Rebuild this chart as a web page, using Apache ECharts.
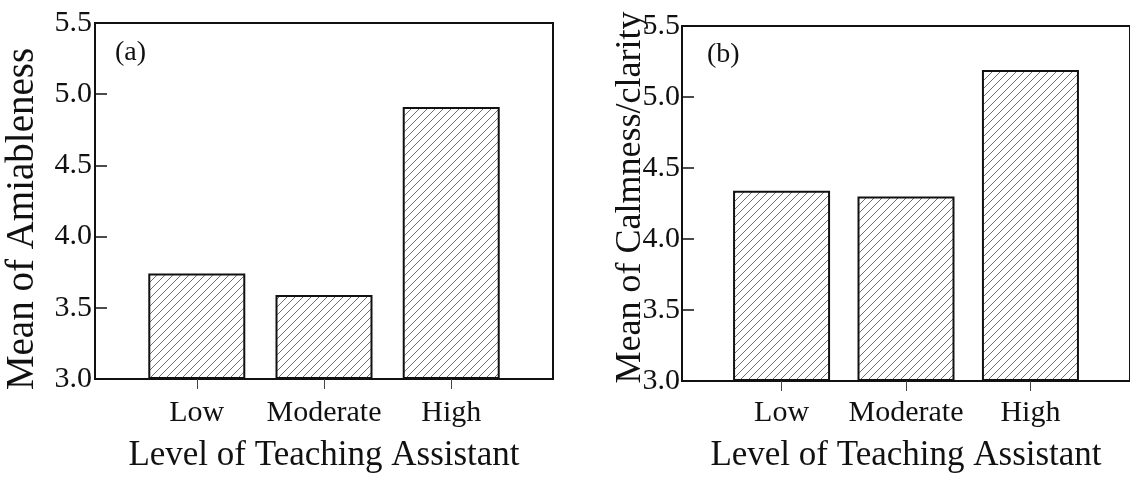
<!DOCTYPE html>
<html>
<head>
<meta charset="utf-8">
<title>Teaching assistant level</title>
<script src="https://cdn.jsdelivr.net/npm/echarts@6/dist/echarts.min.js"></script>
<style>
  html, body { margin: 0; padding: 0; background: #fff; }
  #chart { width: 1130px; height: 478px; }
</style>
</head>
<body>
<div id="chart"></div>
<script>
// Category labels and panel data
const categories = ['Low', 'Moderate', 'High'];
const amiableness = [3.74, 3.59, 4.91];
const calmness = [4.34, 4.30, 5.19];
const yTicks = [3.0, 3.5, 4.0, 4.5, 5.0, 5.5];
const panelTags = ['(a)', '(b)'];
const yTitles = ['Mean of Amiableness', 'Mean of Calmness/clarity'];
const xTitle = 'Level of Teaching Assistant';

const FONT = "'Liberation Serif', 'Times New Roman', 'DejaVu Serif', serif";
const INK = '#111';

// Diagonal hatch tile used to fill the bars
function hatchTile() {
  const s = 8;
  const c = document.createElement('canvas');
  c.width = s; c.height = s;
  const g = c.getContext('2d');
  g.fillStyle = '#fff';
  g.fillRect(0, 0, s, s);
  g.strokeStyle = '#555';
  g.lineWidth = 0.85;
  g.beginPath();
  g.moveTo(-1, s + 1); g.lineTo(s + 1, -1);
  g.moveTo(-1, 1); g.lineTo(1, -1);
  g.moveTo(s - 1, s + 1); g.lineTo(s + 1, s - 1);
  g.stroke();
  return c;
}
const hatch = { image: hatchTile(), repeat: 'repeat' };

const grids = [
  { left: 95, top: 23, width: 458, height: 360 },
  { left: 682, top: 26, width: 457, height: 359 }
];
const labelMargins = [19, 17];
const yLabelMargins = [3, 2];
const xNameGaps = [59, 57];
const yNameGaps = [53, 33];
const yNameSizes = [39, 36];
const yNamePads = [[0, 36, 0, 0], [0, 0, 0, 12]];
const tagPos = [{ left: 115, top: 39 }, { left: 707, top: 41 }];
const seriesValues = [amiableness, calmness];

const option = {
  backgroundColor: '#fff',
  animation: false,
  title: panelTags.map((t, i) => ({
    text: t,
    left: tagPos[i].left,
    top: tagPos[i].top,
    padding: 0,
    textStyle: { fontFamily: FONT, fontSize: 28, fontWeight: 'normal', color: INK }
  })),
  grid: grids.map(g => Object.assign({
    show: true,
    borderColor: INK,
    borderWidth: 2,
    backgroundColor: 'transparent'
  }, g)),
  xAxis: grids.map((g, i) => ({
    type: 'value',
    gridIndex: i,
    min: -0.8,
    max: 2.8,
    name: xTitle,
    nameLocation: 'middle',
    nameGap: xNameGaps[i],
    nameMoveOverlap: false,
    nameTextStyle: { fontFamily: FONT, fontSize: 35, color: INK },
    axisLine: { show: true, onZero: false, lineStyle: { color: INK, width: 2 } },
    axisTick: {
      show: true, inside: false, length: 10,
      customValues: categories.map((c, k) => k),
      lineStyle: { color: '#444', width: 1 }
    },
    axisLabel: {
      show: true,
      customValues: categories.map((c, k) => k),
      formatter: v => categories[Math.round(v)],
      margin: labelMargins[i],
      fontFamily: FONT, fontSize: 30, color: INK
    },
    splitLine: { show: false }
  })),
  yAxis: grids.map((g, i) => ({
    type: 'value',
    gridIndex: i,
    min: yTicks[0],
    max: yTicks[yTicks.length - 1],
    interval: 0.5,
    startValue: yTicks[0],
    name: yTitles[i],
    nameLocation: 'middle',
    nameRotate: 90,
    nameGap: yNameGaps[i],
    nameMoveOverlap: false,
    nameTextStyle: { fontFamily: FONT, fontSize: yNameSizes[i], color: INK, padding: yNamePads[i] },
    axisLine: { show: true, onZero: false, lineStyle: { color: INK, width: 2 } },
    axisTick: { show: true, inside: true, length: 12, lineStyle: { color: INK, width: 1.5 } },
    axisLabel: {
      margin: yLabelMargins[i],
      formatter: v => v.toFixed(1),
      fontFamily: FONT, fontSize: 30, color: INK
    },
    splitLine: { show: false }
  })),
  series: seriesValues.map((vals, i) => ({
    type: 'bar',
    xAxisIndex: i,
    yAxisIndex: i,
    barWidth: 97,
    clip: true,
    data: vals.map((v, k) => [k, v]),
    itemStyle: { color: hatch, borderColor: INK, borderWidth: 2 },
    emphasis: { disabled: true }
  }))
};

const chart = echarts.init(document.getElementById('chart'), null, { renderer: 'canvas' });
chart.setOption(option);
</script>
</body>
</html>
